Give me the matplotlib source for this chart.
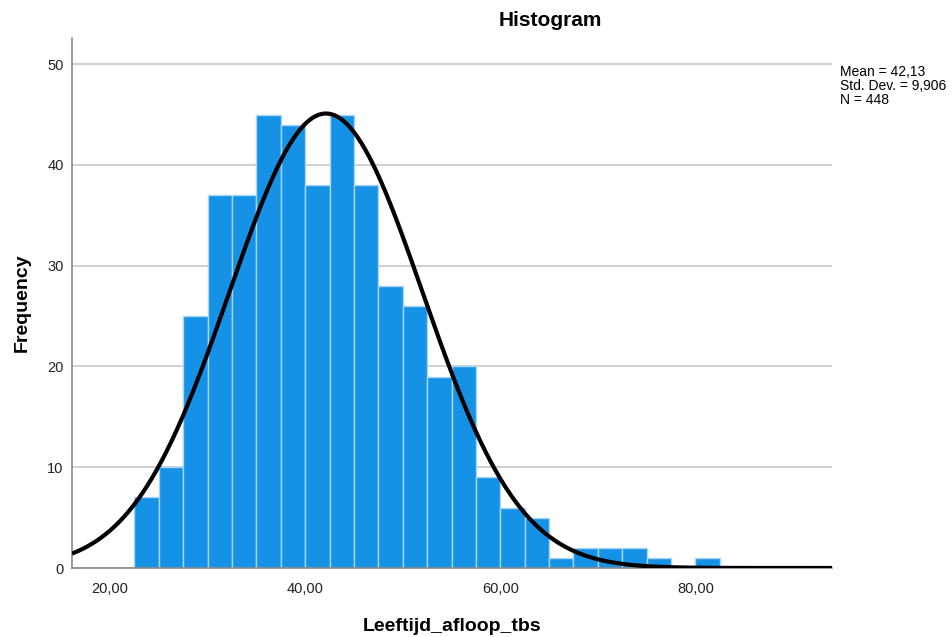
import numpy as np
import matplotlib.pyplot as plt

plt.rcParams["font.family"] = ["Liberation Sans", "DejaVu Sans"]

# histogram of Leeftijd_afloop_tbs, bin width 2.5 starting at 22.5
bin_starts = [22.5, 25.0, 27.5, 30.0, 32.5, 35.0, 37.5, 40.0, 42.5, 45.0, 47.5, 50.0,
              52.5, 55.0, 57.5, 60.0, 62.5, 65.0, 67.5, 70.0, 72.5, 75.0, 77.5, 80.0]
counts = [7, 10, 25, 37, 37, 45, 44, 38, 45, 38, 28, 26,
          19, 20, 9, 6, 5, 1, 2, 2, 2, 1, 0, 1]
bin_width = 2.5

mean = 42.13
std = 9.906
n = 448

x_ticks = [20, 40, 60, 80]
x_tick_labels = ["20,00", "40,00", "60,00", "80,00"]
y_ticks = [0, 10, 20, 30, 40, 50]


def main():
    fig = plt.figure(figsize=(9.53, 6.37), dpi=100)
    ax = fig.add_axes([72 / 953, 1 - 568 / 637, (832 - 72) / 953, (568 - 38) / 637])

    ax.bar(bin_starts, counts, width=bin_width, align="edge",
           color="#1591e6", edgecolor="#a9d6f7", linewidth=1.0, zorder=2)

    xmin, xmax = 16.1, 94.0
    xs = np.linspace(xmin, xmax, 600)
    pdf = n * bin_width / (std * np.sqrt(2 * np.pi)) * np.exp(-0.5 * ((xs - mean) / std) ** 2)
    ax.plot(xs, pdf, color="black", linewidth=3, zorder=3, solid_capstyle="butt")

    ax.set_xlim(xmin, xmax)
    ax.set_ylim(0, 52.6)
    ax.set_xticks(x_ticks)
    ax.set_xticklabels(x_tick_labels)
    ax.set_yticks(y_ticks)
    ax.tick_params(length=0, labelsize=10.5, colors="#222222")
    ax.tick_params(axis="x", pad=10)
    ax.tick_params(axis="y", pad=6)

    ax.yaxis.grid(True, color="#c8c8c8", linewidth=1.2, zorder=0)
    ax.set_axisbelow(True)
    for side in ["top", "right"]:
        ax.spines[side].set_visible(False)
    for side in ["left", "bottom"]:
        ax.spines[side].set_color("#888888")
        ax.spines[side].set_linewidth(1.2)

    ax.set_xlabel("Leeftijd_afloop_tbs", fontsize=14, fontweight="bold", labelpad=16)
    ax.set_ylabel("Frequency", fontsize=14, fontweight="bold", labelpad=12)

    fig.text(550 / 953, 1 - 20 / 637, "Histogram", fontsize=15, fontweight="bold",
             ha="center", va="center")
    mean_txt = f"{mean:.2f}".replace(".", ",")
    std_txt = f"{std:.3f}".replace(".", ",")
    fig.text(840 / 953, 1 - 65 / 637,
             f"Mean = {mean_txt}\nStd. Dev. = {std_txt}\nN = {n}",
             fontsize=10, ha="left", va="top", linespacing=1.0)

    fig.savefig("out.png", dpi=100)


if __name__ == "__main__":
    main()
